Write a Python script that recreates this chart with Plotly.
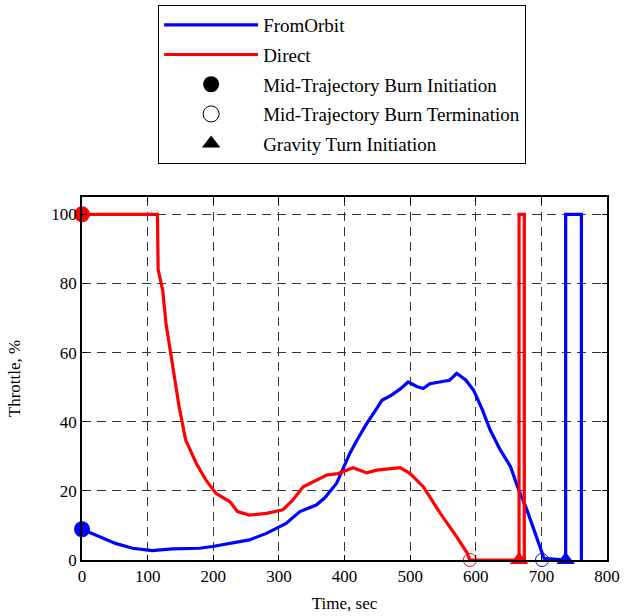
import plotly.graph_objects as go

# FromOrbit throttle history (time s, throttle %)
orbit_t = [0, 26, 51, 77, 107, 138, 179, 199, 230, 255, 281, 311, 332, 357, 370, 388, 398, 408, 420, 434,
           448, 457, 470, 485, 497, 510, 520, 530, 545, 560, 571, 585, 597, 610, 622, 637, 653, 665,
           678, 690, 704, 737, 737, 761, 761]
orbit_y = [8.9, 6.7, 4.8, 3.4, 2.7, 3.2, 3.4, 3.9, 5.0, 5.8, 7.7, 10.6, 14.0, 15.9, 18.0, 22.2, 26.5, 30.8, 35.0, 39.5,
           43.5, 46.2, 47.5, 49.5, 51.5, 50.2, 49.6, 51.0, 51.5, 52.0, 54.0, 52.0, 49.0, 43.5, 37.6, 32.0, 27.0, 20.5,
           14.5, 8.0, 0.5, 0, 100, 100, 0]

# Direct throttle history
direct_t = [0, 115, 116, 123, 128, 138, 148, 158, 174, 189, 204, 225, 237, 255, 281, 306, 321, 337, 362,
            373, 390, 413, 434, 449, 485, 500, 520, 546, 571, 587, 591, 666, 666, 674, 674]
direct_y = [100, 100, 84, 78, 68.4, 55.9, 44.3, 34.7, 28.0, 23.1, 19.3, 16.9, 14.0, 13.0, 13.5, 14.5, 17.3, 21.2, 23.6,
            24.6, 25.0, 26.7, 25.2, 26.0, 26.7, 25.0, 21.2, 13.5, 6.7, 2.0, 0, 0, 100, 100, 0]

# Event markers
burn_init_t = {"FromOrbit": 0, "Direct": 0}
burn_init_y = {"FromOrbit": 8.9, "Direct": 100}
burn_term_t = {"FromOrbit": 701, "Direct": 591}
burn_term_y = {"FromOrbit": 0, "Direct": 0}
gturn_t = {"FromOrbit": 737, "Direct": 666}
gturn_y = {"FromOrbit": 0, "Direct": 0}

colors = {"FromOrbit": "#0000ff", "Direct": "#ff0000"}
FONT = "Liberation Serif, Times New Roman, serif"

fig = go.Figure()
fig.add_trace(go.Scatter(x=orbit_t, y=orbit_y, mode="lines", name="FromOrbit", legendgroup="a",
                         line=dict(color=colors["FromOrbit"], width=3.2)))
fig.add_trace(go.Scatter(x=direct_t, y=direct_y, mode="lines", name="Direct", legendgroup="b",
                         line=dict(color=colors["Direct"], width=3.2)))

for k in ["FromOrbit", "Direct"]:
    c = colors[k]
    fig.add_trace(go.Scatter(x=[burn_init_t[k]], y=[burn_init_y[k]], mode="markers", showlegend=False,
                             marker=dict(symbol="circle", size=16, color=c), cliponaxis=False))
    fig.add_trace(go.Scatter(x=[burn_term_t[k]], y=[burn_term_y[k]], mode="markers", showlegend=False,
                             marker=dict(symbol="circle-open", size=13, color=c, line=dict(width=1)),
                             cliponaxis=False))
    fig.add_trace(go.Scatter(x=[gturn_t[k]], y=[gturn_y[k]], mode="markers", showlegend=False,
                             marker=dict(symbol="triangle-up", size=16, color=c), cliponaxis=False))

# legend-only entries
fig.add_trace(go.Scatter(x=[None], y=[None], mode="markers", name="Mid-Trajectory Burn Initiation",
                         legendgroup="c", marker=dict(symbol="circle", size=16, color="black")))
fig.add_trace(go.Scatter(x=[None], y=[None], mode="markers", name="Mid-Trajectory Burn Termination",
                         legendgroup="d",
                         marker=dict(symbol="circle-open", size=16, color="black", line=dict(width=1))))
fig.add_trace(go.Scatter(x=[None], y=[None], mode="markers", name="Gravity Turn Initiation",
                         legendgroup="e", marker=dict(symbol="triangle-up", size=16, color="black")))

axis_common = dict(showline=True, linecolor="black", linewidth=1.5, mirror="ticks", ticks="inside",
                   ticklen=5, tickcolor="black", showgrid=True, gridcolor="#333333", griddash="9px,6px",
                   gridwidth=1, zeroline=False, automargin=False,
                   tickfont=dict(family=FONT, size=17, color="black"))

fig.update_layout(
    width=624, height=616,
    margin=dict(l=82, r=17, t=197, b=56, autoexpand=False),
    paper_bgcolor="white", plot_bgcolor="white",
    font=dict(family=FONT, size=17, color="black"),
    xaxis=dict(range=[0, 800], dtick=100, title=dict(text="Time, sec", standoff=12,
               font=dict(family=FONT, size=17)), **axis_common),
    yaxis=dict(range=[0, 105], tickvals=[0, 20, 40, 60, 80, 100], title=dict(text="Throttle, %", standoff=26,
               font=dict(family=FONT, size=17)), **axis_common),
    legend=dict(x=0.145, xanchor="left", y=1.529, yanchor="top", bordercolor="black", borderwidth=1,
                bgcolor="white", font=dict(family=FONT, size=19), itemwidth=94,
                tracegroupgap=2, traceorder="grouped"),
)

fig.write_html("out.html")
